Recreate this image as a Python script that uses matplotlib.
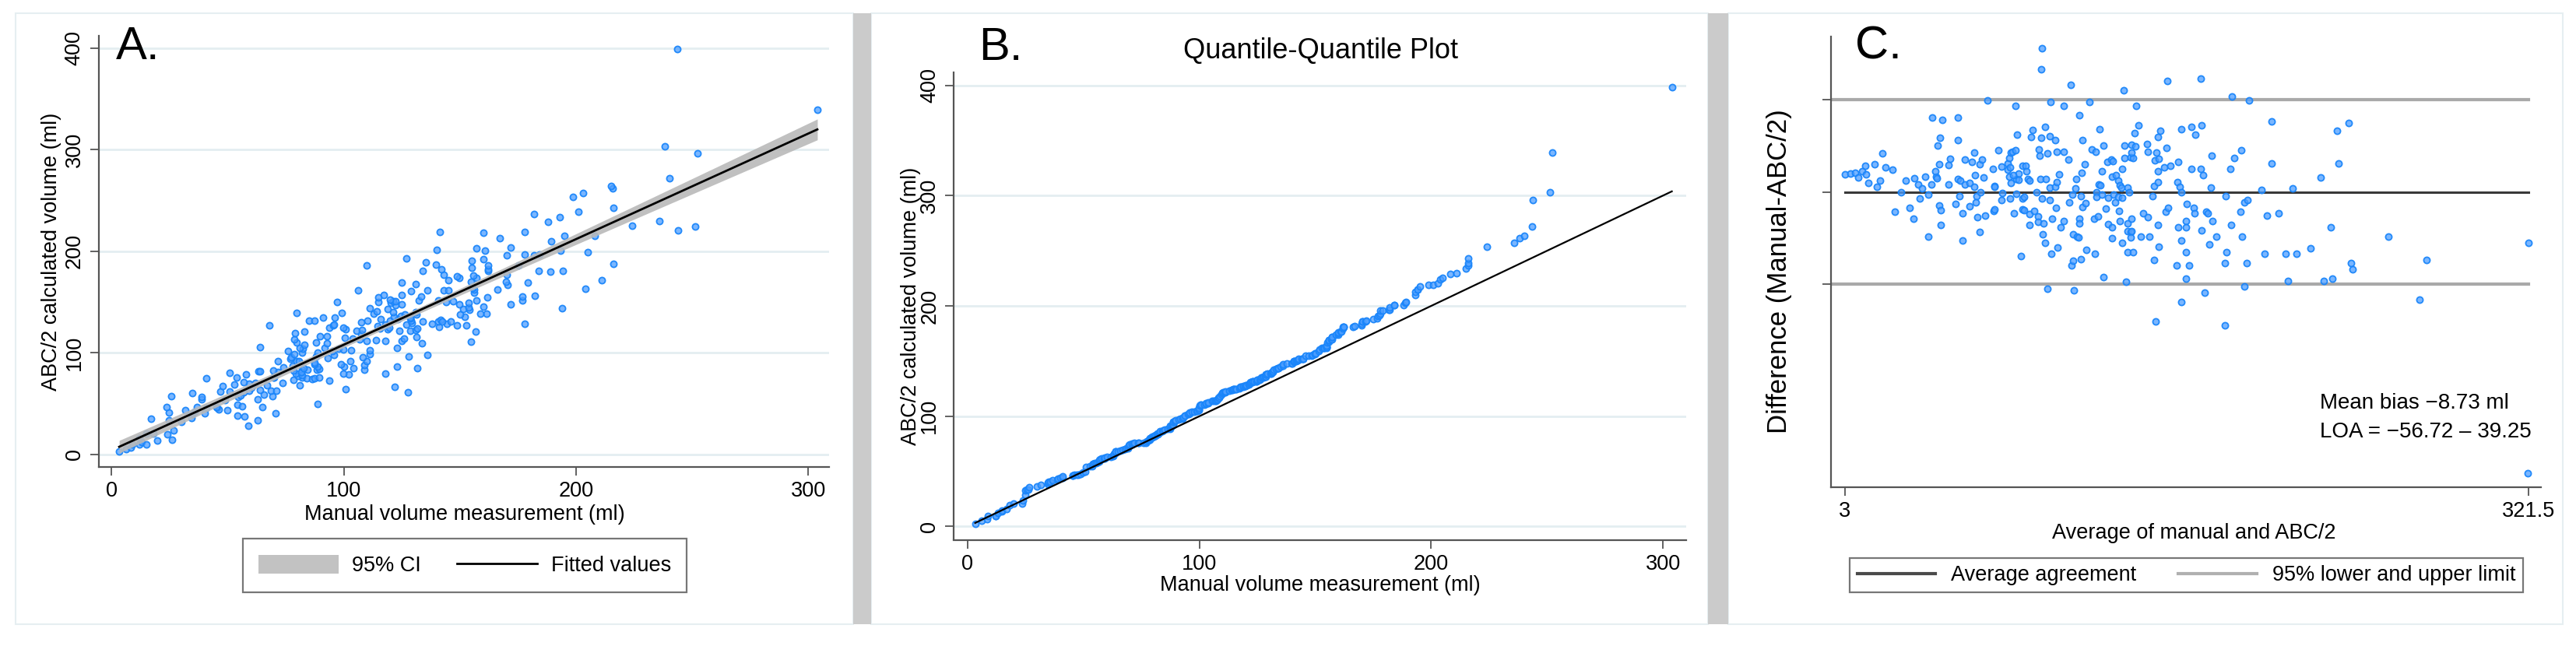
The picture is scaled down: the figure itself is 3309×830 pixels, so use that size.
import numpy as np
import matplotlib.pyplot as plt
from matplotlib.patches import Rectangle, Patch
from matplotlib.lines import Line2D

plt.rcParams['font.family'] = ['Liberation Sans', 'DejaVu Sans']

# Values: mean of both methods and
# difference manual - ABC/2 (ml). Panels A and B use the same patients.
avg_ml = [
    3.0, 5.7, 7.6, 9.3, 10.9, 12.7, 13.9, 17.8, 19.3, 12.3, 16.8, 21.7, 25.2, 20.4,
    31.2, 35.4, 37.2, 39.0, 40.5, 43.3, 45.6, 45.1, 46.9, 45.9, 51.4, 52.0, 51.2,
    58.7, 62.3, 63.3, 65.9, 66.8, 55.6, 56.8, 59.0, 61.0, 63.1, 63.7, 67.4,
    72.0, 75.9, 78.9, 79.7, 80.4, 72.8, 72.5, 78.8, 79.7, 80.4, 82.8, 83.8, 85.8, 80.0, 81.5, 84.0,
    29.2, 37.7, 41.7, 56.3, 54.4, 64.4, 66.2, 63.8, 60.9, 76.3, 76.0, 79.9, 82.8, 85.7,
    26.2, 33.2, 35.0, 46.8, 47.7, 47.7, 57.8, 64.7, 68.3, 72.3, 72.8, 81.7, 85.7,
    41.7, 57.8, 65.6, 84.9,
    69.3, 82.6, 43.7, 48.3, 55.7, 47.4, 46.3, 55.7, 83.3, 74.5, 81.0, 82.6,
    94.6, 94.3, 108.2, 132.8, 153.3, 168.9,
    98.6, 104.8, 116.9, 138.8, 112.2,
    121.7, 90.4, 96.3, 89.8, 94.3, 98.5, 100.9, 113.8, 139.8, 137.8, 149.9, 148.7, 159.7, 164.4, 166.2, 169.0,
    93.3, 93.7, 97.3, 101.8, 104.8, 107.0, 118.1, 119.8, 123.4, 133.2, 136.3, 138.4, 143.8, 144.0, 152.9,
    133.3, 136.0, 137.2, 136.6,
    114.8, 125.1, 126.9, 127.9, 122.7, 132.3, 148.1, 147.5, 149.3, 148.7, 151.7, 154.5, 158.3, 164.4, 168.6, 169.8,
    87.0, 87.6, 88.2, 88.8, 93.9, 96.7, 98.5, 100.9, 102.7, 101.5, 110.6, 113.2, 110.2, 121.2, 122.1,
    127.3, 129.3, 130.2, 131.1, 131.7, 134.5, 135.4, 146.9, 148.8, 157.7, 159.0, 159.6,
    86.4, 92.4, 94.6, 98.3, 101.3, 107.6, 108.8, 112.8, 113.6, 115.2, 120.0, 120.3, 122.7, 124.5,
    125.7, 128.1, 128.7, 130.2, 130.5, 132.1, 146.3, 162.3, 165.6, 165.8, 152.3, 153.4, 142.0, 144.1,
    86.4, 88.8, 91.2, 93.1, 88.8, 93.1, 95.5, 99.3, 103.3, 104.8, 112.2, 112.2, 119.0, 120.9, 125.7,
    127.5, 130.9, 134.5, 136.3, 134.8, 136.0, 136.6, 140.8, 144.8, 148.9, 158.3, 161.7, 162.0, 169.2,
    95.1, 96.1, 101.9, 99.2, 109.1, 111.2, 111.8, 115.4, 119.3, 127.5, 132.3, 136.0, 134.8, 137.2,
    149.3, 159.8, 162.0,
    108.5, 109.4, 113.0, 146.9, 157.4, 163.2, 162.0, 123.3, 133.9, 97.3, 109.7, 159.8, 147.8,
    183.4, 191.4, 201.9, 232.4, 237.6,
    174.0, 184.4, 187.6, 182.4, 201.9, 232.9, 224.6,
    173.5, 197.0, 211.5, 180.5, 188.9, 190.5,
    171.4, 172.1, 174.1, 187.4, 199.5, 205.0, 183.0, 229.4,
    175.9, 172.9, 187.8, 180.8, 180.1, 190.0, 198.4, 208.4, 213.4, 220.0, 238.8, 239.4,
    188.9, 170.5, 209.4, 226.2, 230.0, 180.1,
    256.0, 274.1, 270.6, 321.5, 321.0,
]
diff_ml = [
    0.5, 1.0, 1.3, -1.0, 2.1, 0.5, -3.9, -6.0, -2.6, 5.1, 5.9, 4.3, 2.9, 11.3,
    -2.6, -1.7, -4.9, -6.8, -0.8, -4.9, -0.6, 2.1, 5.9, -1.4, 5.2, 8.5, -4.9,
    8.3, 6.8, 11.6, 5.6, 8.3, -1.9, -2.6, -4.6, -3.9, -6.0, 0.2, -1.0,
    3.1, 4.6, 6.2, 8.9, 11.6, -5.7, -6.0, 2.8, -0.6, -3.9, -1.9, 1.0, 5.1, 4.0, 0.0, -2.5,
    -8.9, -12.0, -10.0, -10.7, -15.0, -10.7, -8.9, -14.1, -16.2, -9.2, -13.0, -12.0, -9.7, -12.0,
    -18.8, -17.0, -22.8, -15.8, -18.1, -25.8, -19.9, -21.9, -21.1, -18.5, -17.8, -19.9, -17.7,
    -32.0, -33.9, -29.7, -41.9,
    39.0, 36.0, 30.1, 29.0, 30.1, 19.4, 15.4, 18.1, 21.0, 13.2, 12.4, 13.2,
    66.1, 55.2, 47.1, 44.1, 49.1, 50.2,
    38.2, 36.0, 38.2, 36.0, 31.1,
    24.1, 23.4, 25.1, 20.1, 19.3, 20.3, 18.1, 18.2, 26.1, 22.1, 23.0, 20.1, 24.1, 25.1, 21.0, 26.1,
    13.3, 10.2, 11.2, 12.4, 12.4, 8.3, 13.3, 12.1, 15.4, 15.4, 16.0, 15.1, 16.2, 12.1, 14.3,
    9.1, 9.5, 8.9, 11.6,
    5.9, 6.8, 8.1, 7.3, 2.1, 3.2, 11.6, 7.9, 8.6, 2.1, 4.1, 5.1, 7.1, 3.5, 3.5, 0.1,
    4.8, 2.1, -1.9, -2.6, -1.9, -1.9, -6.6, -6.0, 0.5, -3.5, -1.9, 1.2, -6.8, -4.6, -5.3,
    -0.8, 0.1, -2.6, -5.3, -6.4, -6.4, -8.7, -5.6, -3.5, -3.5, -6.0, -8.7,
    -11.4, -8.7, -12.0, -13.0, -17.0, -14.1, -10.0, -11.0, -16.4, -14.7, -8.7, -11.4, -10.0, -17.2,
    -11.8, -10.0, -14.1, -11.4, -18.7, -11.8, -11.0, -15.0, -17.0, -19.9, -18.8, -17.0, -19.7, -21.9,
    -18.1, -20.1, -18.7, -21.5, -25.8, -24.2, -24.9, -22.6, -26.9, -23.9, -22.6, -24.9, -22.8, -21.6, -25.5,
    -26.9, -23.9, -24.9, -22.6, -28.9, -29.6, -28.9, -32.0, -32.0, -25.8, -26.9, -23.8, -26.9, -28.6,
    -30.7, -35.1, -37.7, -40.7, -30.7, -31.9, -32.3, -39.0, -40.7, -32.7, -35.0, -32.3, -40.0, -40.0,
    -37.0, -33.9, -40.0,
    -46.9, -44.4, -43.8, -44.0, -46.9, -46.9, -53.6, -52.8, -55.6, -58.9, -59.8, -66.0, -75.9,
    41.1, 39.1, 28.0, 23.2, 27.1,
    10.1, 9.0, 13.2, 3.1, 6.0, 6.0, -1.0,
    -6.6, -7.7, -6.8, -10.8, -14.1, -12.7,
    -18.8, -19.9, -23.9, -18.8, -20.8, -19.9, -25.8, -26.9,
    -31.9, -35.9, -31.9, -40.0, -45.9, -45.9, -40.8, -40.8, -40.8, -38.0, -45.9, -48.9,
    -57.9, -61.0, -55.0, -55.0, -54.0, -77.9,
    -31.9, -44.0, -64.9, -35.3, -155.1,
]

mean_bias = -8.73
loa_low = -56.72
loa_high = 39.25

ab_xticks = [0, 100, 200, 300]
ab_yticks = [0, 100, 200, 300, 400]
c_xticks = [3, 321.5]

avg = np.array(avg_ml)
diff = np.array(diff_ml)
manual = avg + diff / 2
abc2 = avg - diff / 2

# colours
SPINE = "#555555"
GRID = "#e4eef1"
PANEL = "#e6eef1"
SEP = "#cbcbcb"
DOT_FACE = (0.30, 0.62, 1.0, 0.75)
DOT_EDGE = (0.10, 0.52, 0.98, 0.95)

W, H = 3309, 830
fig = plt.figure(figsize=(W / 100, H / 100), dpi=100, facecolor="white")


def add_ax(l, r, t, b):
    return fig.add_axes([l / W, 1 - b / H, (r - l) / W, (b - t) / H])


def ftxt(x, y, s, **kw):
    fig.text(x / W, 1 - y / H, s, **kw)


def frect(x0, x1, y0, y1, **kw):
    fig.patches.append(Rectangle((x0 / W, 1 - y1 / H), (x1 - x0) / W, (y1 - y0) / H,
                                 transform=fig.transFigure, zorder=-10, **kw))


def style(ax):
    for s in ["top", "right"]:
        ax.spines[s].set_visible(False)
    for s in ["left", "bottom"]:
        ax.spines[s].set_color(SPINE)
        ax.spines[s].set_linewidth(1.6)
    ax.tick_params(length=8, width=1.3, color=SPINE, labelsize=19.5, pad=5)
    ax.set_facecolor("none")


def dots(ax, x, y):
    ax.scatter(x, y, s=34, facecolor=DOT_FACE, edgecolor=DOT_EDGE, linewidths=1.3, zorder=3)


# panel frames and grey separators
frect(20, 1096, 17.5, 802, facecolor="none", edgecolor=PANEL, lw=1.5)
frect(1119, 2194, 17.5, 802, facecolor="none", edgecolor=PANEL, lw=1.5)
frect(2220, 3292, 17.5, 802, facecolor="none", edgecolor=PANEL, lw=1.5)
frect(1096, 1119, 17.5, 802, facecolor=SEP, edgecolor="none")
frect(2194, 2220, 17.5, 802, facecolor=SEP, edgecolor="none")

# ---------------- A. scatter with linear fit ----------------
axA = add_ax(126.7, 1065, 46, 600)
style(axA)
axA.set_xlim(-5.6, 308.9)
axA.set_ylim(-12.25, 411.9)
axA.set_xticks(ab_xticks)
axA.set_yticks(ab_yticks)
axA.set_yticklabels([str(v) for v in ab_yticks], rotation=90, va="center")
axA.yaxis.grid(True, color=GRID, lw=2)
axA.set_axisbelow(True)
dots(axA, manual, abc2)

b, a = np.polyfit(manual, abc2, 1)
n = len(manual)
xs = np.linspace(manual.min(), manual.max(), 200)
pred = a + b * xs
resid = abc2 - (a + b * manual)
s_err = np.sqrt(np.sum(resid ** 2) / (n - 2))
sxx = np.sum((manual - manual.mean()) ** 2)
ci = 1.967 * s_err * np.sqrt(1 / n + (xs - manual.mean()) ** 2 / sxx)
axA.fill_between(xs, pred - ci, pred + ci, color="#b9b9b9", lw=0, alpha=0.9, zorder=4)
axA.plot(xs, pred, color="black", lw=2, zorder=5)

legA = axA.legend([Patch(facecolor="#c2c2c2", edgecolor="none"),
                   Line2D([], [], color="black", lw=2)],
                  ["95% CI", "Fitted values"], ncol=2, loc="center",
                  bbox_to_anchor=(597 / W, 1 - 726.5 / H), bbox_transform=fig.transFigure,
                  fontsize=19.5, frameon=True, fancybox=False, edgecolor=SPINE,
                  handlelength=3.8, handleheight=1.0, handletextpad=0.65,
                  columnspacing=1.7, borderpad=0.75)
legA.get_frame().set_linewidth(1.6)

ftxt(149, 76, "A.", fontsize=43, va="baseline", ha="left")
ftxt(66, 323, "ABC/2 calculated volume (ml)", fontsize=19.5, rotation=90, ha="center", va="center")
ftxt(597, 661, "Manual volume measurement (ml)", fontsize=19.5, ha="center", va="center")

# ---------------- B. quantile-quantile ----------------
axB = add_ax(1225.4, 2165.6, 92.6, 693.5)
style(axB)
axB.set_xlim(-5.9, 309.9)
axB.set_ylim(-12.0, 412.0)
axB.set_xticks(ab_xticks)
axB.set_yticks(ab_yticks)
axB.set_yticklabels([str(v) for v in ab_yticks], rotation=90, va="center")
axB.yaxis.grid(True, color=GRID, lw=2)
axB.set_axisbelow(True)
dots(axB, np.sort(manual), np.sort(abc2))
axB.plot([manual.min(), manual.max()], [manual.min(), manual.max()], color="black", lw=1.6, zorder=4)

ftxt(1257, 77, "B.", fontsize=43, va="baseline", ha="left")
ftxt(1696, 66, "Quantile-Quantile Plot", fontsize=26, ha="center", va="center")
ftxt(1170, 393, "ABC/2 calculated volume (ml)", fontsize=19.5, rotation=90, ha="center", va="center")
ftxt(1696, 752, "Manual volume measurement (ml)", fontsize=19.5, ha="center", va="center")

# ---------------- C. Bland-Altman ----------------
axC = add_ax(2352.3, 3264.4, 46.6, 625.7)
style(axC)
axC.set_xlim(-3.42, 327.4)
axC.set_ylim(-162.2, 72.3)
axC.set_xticks(c_xticks)
axC.set_xticklabels(["3", "321.5"])
axC.set_yticks([loa_low, mean_bias, loa_high])
axC.set_yticklabels([])
x0 = axC.get_xlim()[0]
axC.plot([x0, avg.max()], [loa_high, loa_high], color="#a9a9a9", lw=3, zorder=2)
axC.plot([x0, avg.max()], [loa_low, loa_low], color="#a9a9a9", lw=3, zorder=2)
axC.plot([avg.min(), avg.max()], [mean_bias, mean_bias], color="#3a3a3a", lw=2.2, zorder=2)
dots(axC, avg, diff)

axC.text(224.3, -118.5, "Mean bias \u22128.73 ml", fontsize=20, ha="left", va="center")
axC.text(224.3, -133.5, "LOA = \u221256.72 \u2013 39.25", fontsize=20, ha="left", va="center")

legC = axC.legend([Line2D([], [], color="#4a4a4a", lw=3),
                   Line2D([], [], color="#b0b0b0", lw=3)],
                  ["Average agreement", "95% lower and upper limit"], ncol=2, loc="center",
                  bbox_to_anchor=((2372 + 3245) / 2 / W, 1 - 739 / H), bbox_transform=fig.transFigure,
                  fontsize=19.5, frameon=True, fancybox=False, edgecolor=SPINE,
                  handlelength=3.7, handletextpad=0.75, columnspacing=2.0, borderpad=0.35)
legC.get_frame().set_linewidth(1.6)

ftxt(2383, 75, "C.", fontsize=43, va="baseline", ha="left")
ftxt(2285, 349, "Difference (Manual-ABC/2)", fontsize=25, rotation=90, ha="center", va="center")
ftxt(2818, 685, "Average of manual and ABC/2", fontsize=19.5, ha="center", va="center")

fig.savefig("out.png", dpi=100, facecolor="white")
